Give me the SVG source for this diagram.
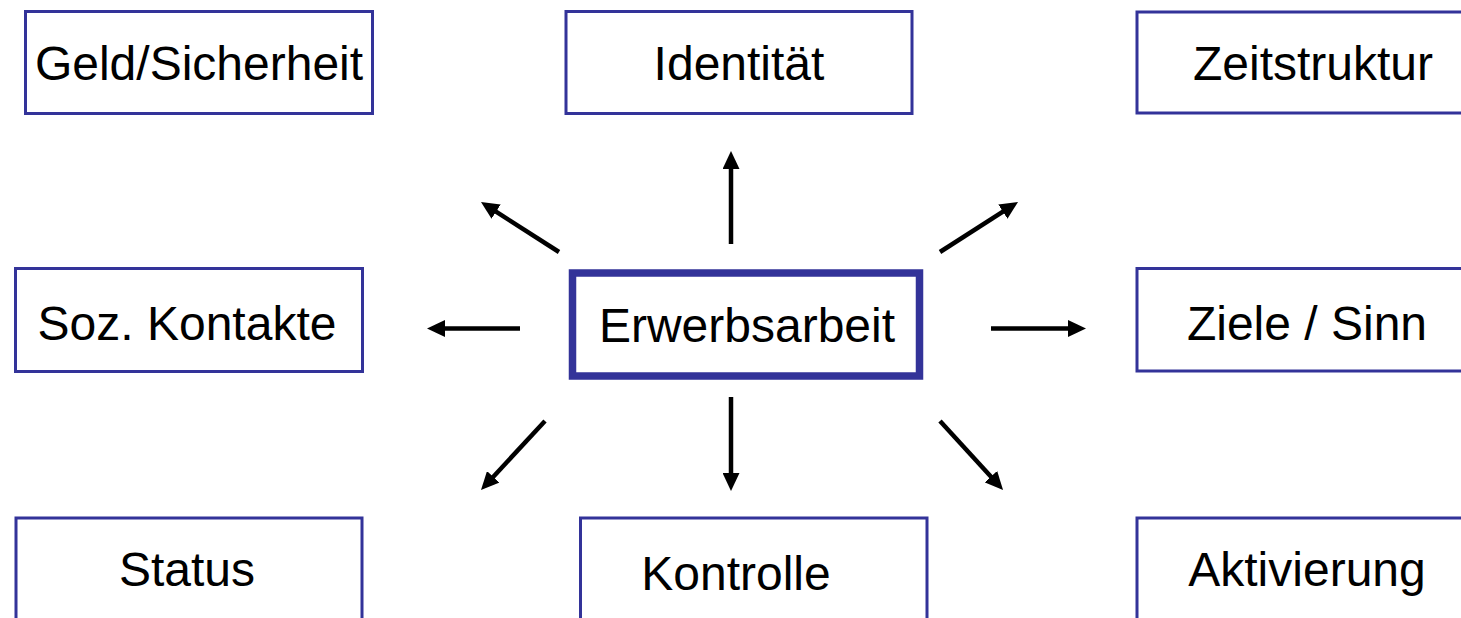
<svg xmlns="http://www.w3.org/2000/svg" width="1461" height="618" viewBox="0 0 1461 618">
  <style>
    .box { fill: #ffffff; stroke: #333399; stroke-width: 3; }
    .core { fill: #ffffff; stroke: #333399; stroke-width: 7.5; }
    .label { font-family: "Liberation Sans", Arial, Helvetica, sans-serif; font-size: 48px; fill: #000000; text-anchor: middle; }
    .arrow { stroke: #000000; stroke-width: 4.5; fill: none; marker-end: url(#head); }
  </style>
  <defs>
    <marker id="head" markerUnits="userSpaceOnUse" markerWidth="18" markerHeight="17" refX="8" refY="8.5" orient="auto" viewBox="0 0 18 17">
      <path d="M0,0 L18,8.5 L0,17 Z" fill="#000000"/>
    </marker>
  </defs>
  <rect width="1461" height="618" fill="#ffffff"/>

  <g id="geld">
    <rect class="box" x="25.5" y="11.5" width="347" height="102"/>
    <text class="label" x="199" y="80">Geld/Sicherheit</text>
  </g>
  <g id="identitaet">
    <rect class="box" x="566" y="11.5" width="346" height="102"/>
    <text class="label" x="739" y="80">Identität</text>
  </g>
  <g id="zeitstruktur">
    <rect class="box" x="1137" y="12" width="400" height="101"/>
    <text class="label" x="1313" y="80">Zeitstruktur</text>
  </g>
  <g id="kontakte">
    <rect class="box" x="15.5" y="268.5" width="347" height="103"/>
    <text class="label" x="187" y="340">Soz. Kontakte</text>
  </g>
  <g id="erwerbsarbeit">
    <rect class="core" x="572.5" y="273" width="347" height="103"/>
    <text class="label" x="747" y="342">Erwerbsarbeit</text>
  </g>
  <g id="ziele">
    <rect class="box" x="1137" y="268.5" width="400" height="102.5"/>
    <text class="label" x="1307" y="340">Ziele / Sinn</text>
  </g>
  <g id="status">
    <rect class="box" x="16" y="518" width="346" height="200"/>
    <text class="label" x="187" y="586">Status</text>
  </g>
  <g id="kontrolle">
    <rect class="box" x="580.5" y="518" width="346.5" height="200"/>
    <text class="label" x="736" y="590">Kontrolle</text>
  </g>
  <g id="aktivierung">
    <rect class="box" x="1137" y="518" width="400" height="200"/>
    <text class="label" x="1307" y="586">Aktivierung</text>
  </g>

  <g id="connectors">
    <line class="arrow" x1="731" y1="244" x2="731" y2="161"/>
    <line class="arrow" x1="559" y1="252" x2="489.4" y2="207.4"/>
    <line class="arrow" x1="940" y1="252" x2="1009.6" y2="207.4"/>
    <line class="arrow" x1="520" y1="328.5" x2="437" y2="328.5"/>
    <line class="arrow" x1="991" y1="328.5" x2="1076" y2="328.5"/>
    <line class="arrow" x1="545" y1="421" x2="487.8" y2="482.7"/>
    <line class="arrow" x1="731" y1="397" x2="731" y2="481"/>
    <line class="arrow" x1="940" y1="421" x2="996.3" y2="482.6"/>
  </g>
</svg>
